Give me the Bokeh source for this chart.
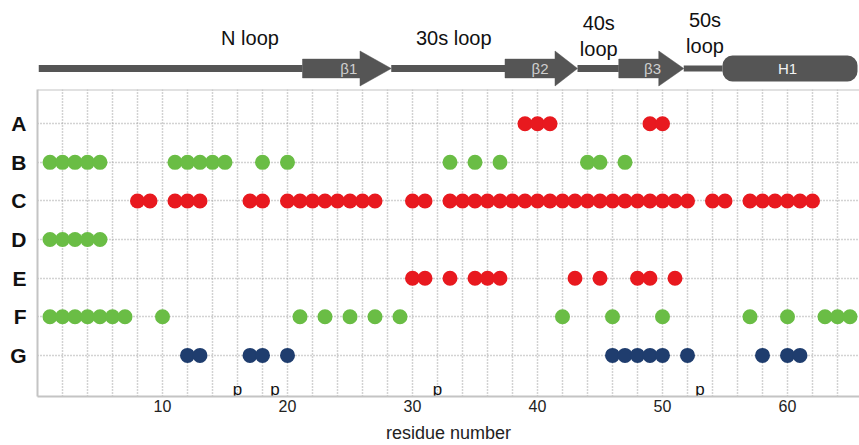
from bokeh.plotting import figure
from bokeh.models import Range1d, FixedTicker, Span
from bokeh.layouts import column
from bokeh.embed import file_html
from bokeh.resources import INLINE
from bokeh.core.properties import value

# ---------------- data ----------------
row_labels = ["A", "B", "C", "D", "E", "F", "G"]
row_colors = ["#e8191f", "#6abd45", "#e8191f", "#6abd45", "#e8191f", "#6abd45", "#1f3d6e"]
res_A = [39, 40, 41, 49, 50]
res_B = [1, 2, 3, 4, 5, 11, 12, 13, 14, 15, 18, 20, 33, 35, 37, 44, 45, 47]
res_C = [8, 9, 11, 12, 13, 17, 18, 20, 21, 22, 23, 24, 25, 26, 27, 30, 31,
         33, 34, 35, 36, 37, 38, 39, 40, 41, 42, 43, 44, 45, 46, 47, 48, 49, 50, 51, 52,
         54, 55, 57, 58, 59, 60, 61, 62]
res_D = [1, 2, 3, 4, 5]
res_E = [30, 31, 33, 35, 36, 37, 43, 45, 48, 49, 51]
res_F = [1, 2, 3, 4, 5, 6, 7, 10, 21, 23, 25, 27, 29, 42, 46, 50, 57, 60, 63, 64, 65]
res_G = [12, 13, 17, 18, 20, 46, 47, 48, 49, 50, 52, 58, 60, 61]
row_residues = [res_A, res_B, res_C, res_D, res_E, res_F, res_G]
row_values = [7, 6, 5, 4, 3, 2, 1]

x_tick_values = [10, 20, 30, 40, 50, 60]
x_grid_values = [2, 4, 6, 8, 10, 12, 14, 16, 18, 20, 22, 24, 26, 28, 30, 32,
                 34, 36, 38, 40, 42, 44, 46, 48, 50, 52, 54, 56, 58, 60, 62, 64]
p_sites = [16, 19, 32, 53]

# secondary structure (residue numbers)
coil_start = 0.1
strand_names = ["β1", "β2", "β3"]
strand_start = [21.2, 37.4, 46.5]
strand_body_end = [25.8, 41.4, 49.7]
strand_tip = [28.3, 43.2, 51.7]
strand_label_x = [24.9, 40.2, 49.2]
helix_name = "H1"
helix_start = 54.8
helix_end = 65.6
helix_label_x = 60.0
loop_labels = ["N loop", "30s loop", "40s\nloop", "50s\nloop"]
loop_label_x = [17.0, 33.3, 44.9, 53.4]

# ---------------- layout constants ----------------
X_END = 65.76
Y_START, Y_END = -0.064, 7.886
W = 859
TOP_H = 87
BOT_H = 358
FONT = "Liberation Sans"
STRUCT_COLOR = "#555555"
FRAME_COLOR = "#c4c4c4"
GRID_COLOR = "#a6a6a6"
LEFT = 37

x_range = Range1d(0, X_END)

# ---------------- top: secondary structure ----------------
top = figure(width=W, height=TOP_H, x_range=x_range, y_range=Range1d(0, TOP_H),
             output_backend="svg", toolbar_location=None,
             x_axis_location=None, y_axis_location=None,
             min_border_left=LEFT, min_border_right=0, min_border_top=0, min_border_bottom=0)
top.outline_line_color = None
top.xgrid.visible = False
top.ygrid.visible = False

yc = 19
body_h = 9.4
head_h = 17.5
helix_h = 13

coil_x0 = [coil_start] + strand_tip
coil_x1 = strand_start + [helix_start]
coil_w = [7, 7, 7, 6]
top.segment(x0=coil_x0, y0=yc, x1=coil_x1, y1=yc, line_color=STRUCT_COLOR,
            line_width=coil_w, line_cap="butt")

xs, ys = [], []
for s, be, t in zip(strand_start, strand_body_end, strand_tip):
    xs.append([s, be, be, t, be, be, s])
    ys.append([yc - body_h, yc - body_h, yc - head_h, yc, yc + head_h, yc + body_h, yc + body_h])
top.patches(xs, ys, fill_color=STRUCT_COLOR, line_color=STRUCT_COLOR, line_width=0.5)

top.quad(left=[helix_start], right=[helix_end], bottom=yc - helix_h, top=yc + helix_h,
         fill_color=STRUCT_COLOR, line_color=None, border_radius=10)

top.text(x=strand_label_x, y=yc, text=strand_names, text_font=value(FONT),
         text_font_size="15px", text_color="#cfcfcf", text_align="center",
         text_baseline="middle")
top.text(x=[helix_label_x], y=yc, text=[helix_name], text_font=value(FONT),
         text_font_size="15px", text_color="#f2f2f2", text_align="center",
         text_baseline="middle")

loop_label_y = [49.3, 49.3, 51.5, 54.7]
top.text(x=loop_label_x, y=loop_label_y, text=loop_labels, text_font=value(FONT),
         text_font_size="20px", text_color="#111111", text_align="center",
         text_baseline="middle", text_line_height=1.2)

# ---------------- bottom: dot plot ----------------
p = figure(width=W, height=BOT_H, x_range=x_range, y_range=Range1d(Y_START, Y_END),
           output_backend="svg", toolbar_location=None,
           min_border_left=LEFT, min_border_right=0, min_border_top=2, min_border_bottom=47)
p.outline_line_color = None

for res, yv, col in zip(row_residues, row_values, row_colors):
    p.scatter(x=res, y=[yv] * len(res), size=15, fill_color=col, line_color=None)

p.text(x=p_sites, y=0.12, text=["p"] * len(p_sites), text_font=value(FONT),
       text_font_size="17px", text_color="#111111", text_align="center",
       text_baseline="alphabetic")

# grids
p.xgrid.ticker = FixedTicker(ticks=x_grid_values)
p.ygrid.ticker = FixedTicker(ticks=row_values)
for g in (p.xgrid, p.ygrid):
    g.grid_line_color = GRID_COLOR
    g.grid_line_dash = "1 2"
    g.grid_line_width = 1.5

# y axis (row letters)
p.yaxis.ticker = FixedTicker(ticks=row_values)
p.yaxis.major_label_overrides = {v: l for v, l in zip(row_values, row_labels)}
p.yaxis.major_label_text_font = FONT
p.yaxis.major_label_text_font_style = "bold"
p.yaxis.major_label_text_font_size = "21px"
p.yaxis.major_label_text_color = "#111111"
p.yaxis.major_label_standoff = 11
p.yaxis.major_tick_line_color = None
p.yaxis.minor_tick_line_color = None
p.yaxis.major_tick_out = 0
p.yaxis.major_tick_in = 0
p.yaxis.axis_line_color = FRAME_COLOR
p.yaxis.axis_line_width = 2

# x axis
p.xaxis.ticker = FixedTicker(ticks=x_tick_values)
p.xaxis.major_label_text_font = FONT
p.xaxis.major_label_text_font_size = "16px"
p.xaxis.major_label_text_color = "#222222"
p.xaxis.major_label_standoff = 3
p.xaxis.major_tick_line_color = None
p.xaxis.minor_tick_line_color = None
p.xaxis.major_tick_out = 0
p.xaxis.major_tick_in = 0
p.xaxis.axis_line_color = FRAME_COLOR
p.xaxis.axis_line_width = 2
p.xaxis.axis_label = "residue number"
p.xaxis.axis_label_text_font = FONT
p.xaxis.axis_label_text_font_style = "normal"
p.xaxis.axis_label_text_font_size = "18px"
p.xaxis.axis_label_text_color = "#222222"
p.xaxis.axis_label_standoff = 8

p.add_layout(Span(location=Y_END, dimension="width", line_color=FRAME_COLOR, line_width=2))

layout = column(top, p, spacing=0)
open("out.html", "w").write(file_html(layout, INLINE))
